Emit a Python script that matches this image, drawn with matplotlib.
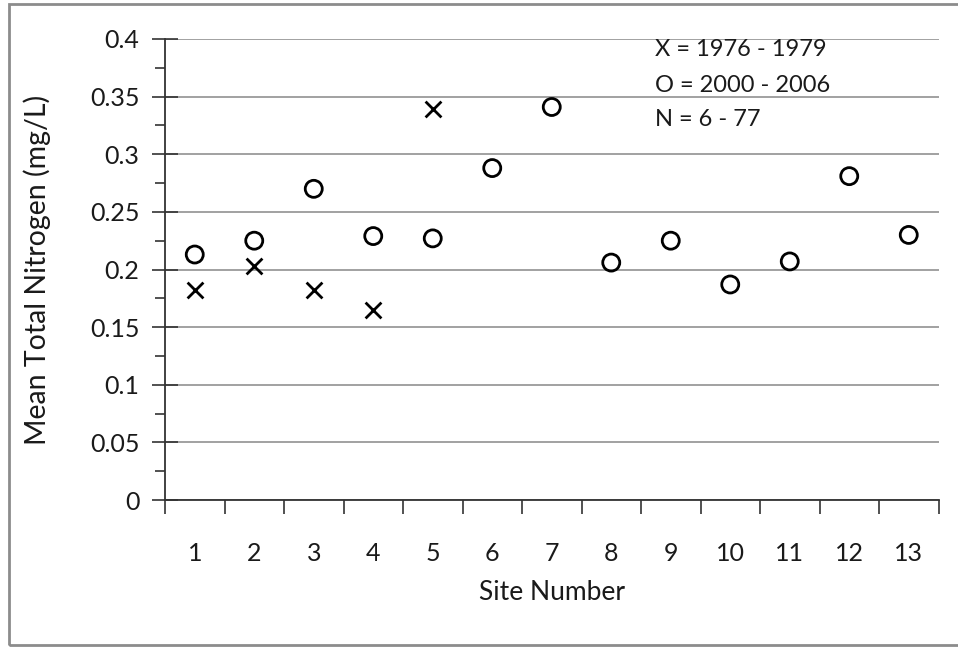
import matplotlib
matplotlib.use("Agg")
import matplotlib.pyplot as plt
from matplotlib.patches import Rectangle
import numpy as np

sites = list(range(1, 14))
site_labels = [str(s) for s in sites]
o_values = [0.213, 0.225, 0.270, 0.229, 0.227, 0.288, 0.341, 0.206, 0.225, 0.187, 0.207, 0.281, 0.230]
x_sites = [1, 2, 3, 4, 5]
x_values = [0.182, 0.203, 0.182, 0.165, 0.339]
y_ticks = [0, 0.05, 0.1, 0.15, 0.2, 0.25, 0.3, 0.35, 0.4]
y_tick_labels = ["0", "0.05", "0.1", "0.15", "0.2", "0.25", "0.3", "0.35", "0.4"]
notes = ["X = 1976 - 1979", "O = 2000 - 2006", "N = 6 - 77"]

plt.rcParams['font.family'] = ['Lato', 'DejaVu Sans']

W, H = 958, 647
fig = plt.figure(figsize=(W / 100, H / 100), dpi=100)
ax = fig.add_axes([165 / W, 1 - 500 / H, (938.5 - 165) / W, (500 - 39) / H])

# outer frame
fig.patches.append(Rectangle((8.5 / W, 1 - 645 / H), 1.2, (645 - 4) / H,
                             transform=fig.transFigure, fill=False,
                             edgecolor='#8c8c8c', linewidth=2.0, clip_on=False))

ax.set_xlim(0.5, 13.5)
ax.set_ylim(0, 0.4)

ax.set_yticks(y_ticks)
ax.set_yticklabels(y_tick_labels)
ax.set_yticks(np.arange(0.025, 0.4, 0.05), minor=True)
ax.grid(axis='y', which='major', color='#9a9a9a', linewidth=1.3)
ax.set_axisbelow(True)

ax.set_xticks(np.arange(0.5, 13.6, 1.0))
ax.set_xticklabels([])
ax.set_xticks(sites, minor=True)
ax.set_xticklabels(site_labels, minor=True)

ax.tick_params(axis='y', which='major', direction='inout', length=19, width=1.2,
               color='#333333', labelsize=18, pad=9, labelcolor='#1a1a1a')
ax.tick_params(axis='y', which='minor', direction='out', length=7, width=1.2, color='#333333')
ax.tick_params(axis='x', which='major', direction='out', length=10, width=1.2, color='#333333')
ax.tick_params(axis='x', which='minor', length=0, labelsize=18, pad=30, labelcolor='#1a1a1a')

for s in ['top', 'right']:
    ax.spines[s].set_visible(False)
for s in ['left', 'bottom']:
    ax.spines[s].set_color('#333333')
    ax.spines[s].set_linewidth(1.3)

ax.scatter(sites, o_values, s=150, marker='o', facecolors='none', edgecolors='black',
           linewidths=2.0, zorder=3)
ax.scatter(x_sites, x_values, s=130, marker='x', color='black', linewidths=2.0, zorder=3)

xl = ax.set_xlabel("Site Number", fontsize=19, color='#1a1a1a')
yl = ax.set_ylabel("Mean Total Nitrogen (mg/L)", fontsize=20.5, color='#1a1a1a')
xl.set_verticalalignment('center')
yl.set_verticalalignment('center')
ax.xaxis.set_label_coords(0.5, (500 - 592) / (500 - 39))
ax.yaxis.set_label_coords((37 - 165) / (938.5 - 165), 0.5)

for i, t in enumerate(notes):
    fig.text(655 / W, 1 - (50 + 35 * i) / H, t, fontsize=17, va='center', ha='left',
             color='#1a1a1a')

fig.savefig("out.png", dpi=100)
